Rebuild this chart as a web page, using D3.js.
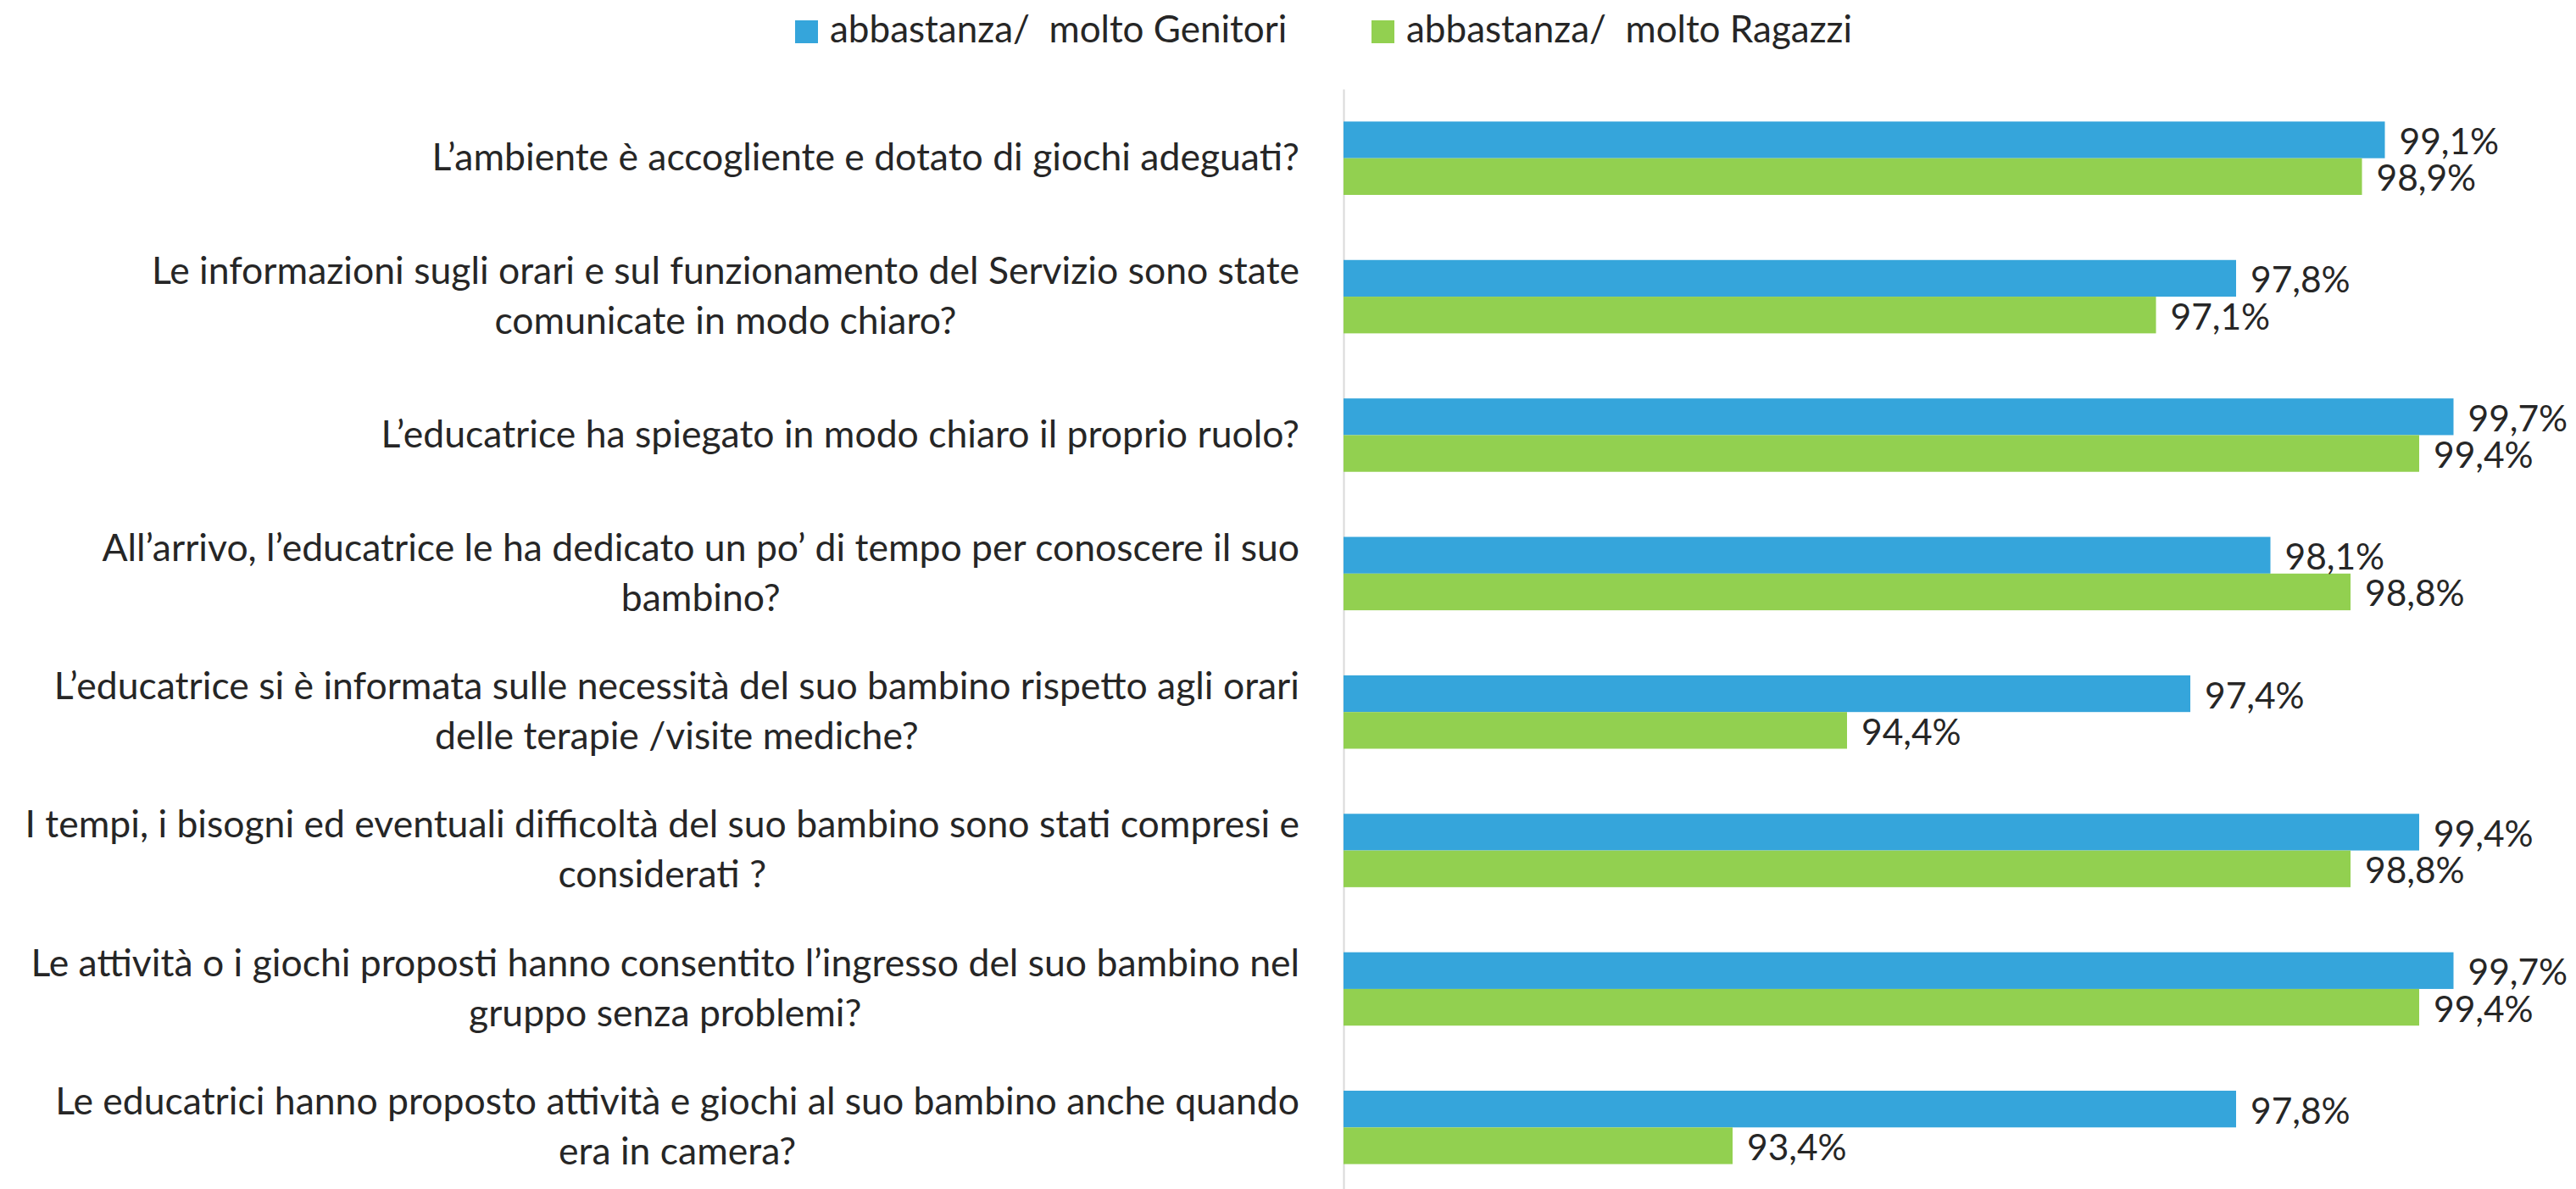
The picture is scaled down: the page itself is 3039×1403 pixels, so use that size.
<!DOCTYPE html>
<html>
<head>
<meta charset="utf-8">
<script src="https://cdn.jsdelivr.net/npm/d3@7"></script>
<style>
  body { margin: 0; background: #fff; }
  text { font-family: Lato, "Open Sans", sans-serif; fill: #262626; }
</style>
</head>
<body>
<div id="chart"></div>
<script>
// Data
const categories = [
    "L’ambiente è accogliente e dotato di giochi adeguati?",
    "Le informazioni sugli orari e sul funzionamento del Servizio sono state\ncomunicate in modo chiaro?",
    "L’educatrice ha spiegato in modo chiaro il proprio ruolo?",
    "All’arrivo, l’educatrice le ha dedicato un po’ di tempo per conoscere il suo\nbambino?",
    "L’educatrice si è informata sulle necessità del suo bambino rispetto agli orari\ndelle terapie /visite mediche?",
    "I tempi, i bisogni ed eventuali difficoltà del suo bambino sono stati compresi e\nconsiderati ?",
    "Le attività o i giochi proposti hanno consentito l’ingresso del suo bambino nel\ngruppo senza problemi?",
    "Le educatrici hanno proposto attività e giochi al suo bambino anche quando\nera in camera?"
];
const seriesNames = ["abbastanza/  molto Genitori", "abbastanza/  molto Ragazzi"];
const genitori = [99.1, 97.8, 99.7, 98.1, 97.4, 99.4, 99.7, 97.8];
const ragazzi = [98.9, 97.1, 99.4, 98.8, 94.4, 98.8, 99.4, 93.4];
const colors = ["#35a5db", "#92d050"];
const axisMin = 90, axisMax = 100;

const W = 3039, H = 1403;

const svg = d3.select("#chart")
    .append("svg")
    .attr("width", W)
    .attr("height", H);

// scales
const xScale = d3.scaleLinear()
    .domain([axisMin, axisMax])
    .range([1585, 2935]);

const yScale = d3.scaleBand()
    .domain(categories)
    .range([105, 1412])
    .paddingInner(0.47)
    .paddingOuter(0.235);

const subScale = d3.scaleBand()
    .domain([0, 1])
    .range([0, yScale.bandwidth()]);

const rows = categories.map((c, i) => ({ cat: c, vals: [genitori[i], ragazzi[i]] }));

// vertical axis line
svg.append("g")
    .attr("transform", `translate(${xScale(axisMin)},0)`)
    .call(d3.axisLeft(yScale).tickSize(0).tickFormat(""))
    .call(g => g.select(".domain").attr("stroke", "#d9d9d9").attr("stroke-width", 2));

// bars
const groups = svg.selectAll(".row")
    .data(rows)
    .enter().append("g")
    .attr("class", "row")
    .attr("transform", d => `translate(0,${yScale(d.cat)})`);

groups.selectAll("rect")
    .data(d => d.vals.map((v, k) => ({ v, k })))
    .enter().append("rect")
    .attr("x", xScale(axisMin))
    .attr("y", d => subScale(d.k))
    .attr("width", d => xScale(d.v) - xScale(axisMin))
    .attr("height", subScale.bandwidth())
    .attr("fill", d => colors[d.k]);

// value labels
groups.selectAll(".val")
    .data(d => d.vals.map((v, k) => ({ v, k })))
    .enter().append("text")
    .attr("class", "val")
    .attr("x", d => xScale(d.v) + 17)
    .attr("y", d => subScale(d.k) + subScale.bandwidth() / 2 + 17)
    .attr("font-size", 42.5)
    .text(d => d.v.toFixed(1).replace(".", ",") + "%");

// category labels: centred block, right edge next to the axis
const labelRight = 1533;
const lineGap = 59;
rows.forEach(r => {
    const lines = r.cat.split("\n");
    const cy = yScale(r.cat) + yScale.bandwidth() / 2;
    const t = svg.append("text")
        .attr("font-size", 44.5)
        .attr("text-anchor", "middle");
    const spans = lines.map((ln, j) => t.append("tspan")
        .attr("y", cy + (j - (lines.length - 1) / 2) * lineGap)
        .attr("dy", "0.32em")
        .text(ln));
    const maxW = d3.max(spans, s => s.node().getComputedTextLength());
    spans.forEach(s => s.attr("x", labelRight - maxW / 2));
});

// legend
const legendX = [938, 1618];
seriesNames.forEach((name, k) => {
    svg.append("rect")
        .attr("x", legendX[k]).attr("y", 24)
        .attr("width", 27).attr("height", 27)
        .attr("fill", colors[k]);
    svg.append("text")
        .attr("x", legendX[k] + 41).attr("y", 50)
        .attr("font-size", 44)
        .style("white-space", "pre")
        .text(name);
});
</script>
</body>
</html>
